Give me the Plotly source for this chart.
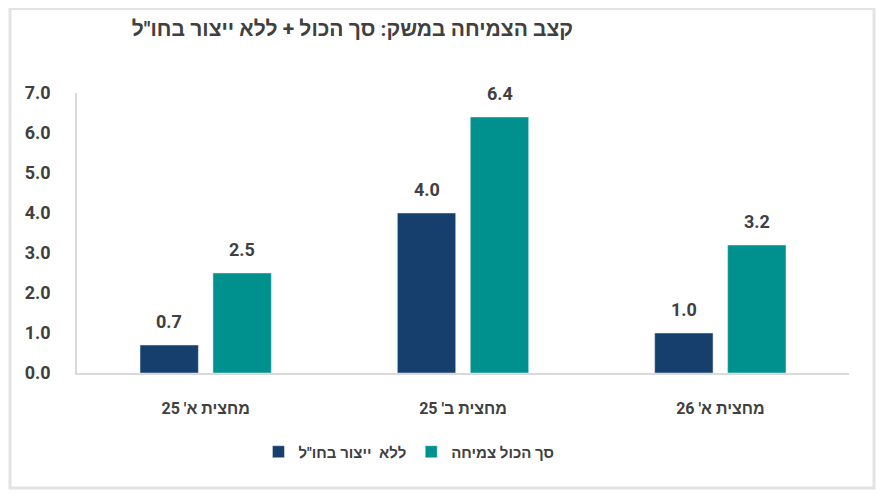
import plotly.graph_objects as go

categories = ["מחצית א' 25", "מחצית ב' 25", "מחצית א' 26"]
series_names = ['ללא  ייצור בחו"ל', "סך הכול צמיחה"]
without_abroad = [0.7, 4.0, 1.0]
total_growth = [2.5, 6.4, 3.2]
y_ticks = [0, 1, 2, 3, 4, 5, 6, 7]

title_text = 'קצב הצמיחה במשק: סך הכול + ללא ייצור בחו"ל'

blue = "#173F6E"
teal = "#00918E"
text_color = "#404040"
font_family = "Roboto, Liberation Sans, Arial, sans-serif"

fig = go.Figure()
for name, values, color in [(series_names[0], without_abroad, blue),
                            (series_names[1], total_growth, teal)]:
    fig.add_trace(go.Bar(x=categories, y=values, name=name,
                         marker=dict(color=color)))

# value labels above bars, offset to each bar of the group
for values, shift in [(without_abroad, -36.5), (total_growth, 36.5)]:
    for cat, v in zip(categories, values):
        fig.add_annotation(x=cat, y=v, xref="x", yref="y", text="<b>%.1f</b>" % v,
                           showarrow=False, xshift=shift, yshift=11, yanchor="bottom",
                           font=dict(size=18, color=text_color, family=font_family))

# outer light frame
fig.add_shape(type="rect", xref="paper", yref="paper",
              x0=-0.0868, x1=1.0324, y0=-0.4107, y1=1.302,
              line=dict(color="#e3e3e3", width=3), layer="below")

# page body adds 8px margin, so the figure is 8px smaller than the window
fig.update_layout(
    width=876,
    height=488,
    margin=dict(l=69, r=35, t=85, b=123),
    paper_bgcolor="white",
    plot_bgcolor="white",
    barmode="group",
    bargap=0.433,
    bargroupgap=0.2,
    title=dict(text="<b>" + title_text + "</b>", xref="container", yref="container",
               x=565 / 876, xanchor="right", y=1 - 21 / 488, yanchor="middle",
               font=dict(size=21, color=text_color, family=font_family)),
    xaxis=dict(
        showline=True, linecolor="#d9d9d9", linewidth=1.5,
        ticks="outside", ticklen=20, tickcolor="rgba(0,0,0,0)",
        tickfont=dict(size=16, color=text_color, family=font_family),
        tickvals=categories,
        ticktext=["<b>" + c + "</b>" for c in categories],
    ),
    yaxis=dict(
        range=[0, 7], tickvals=y_ticks, tickformat=".1f",
        showgrid=False, zeroline=False,
        showline=True, linecolor="#d9d9d9", linewidth=1.5,
        ticks="outside", ticklen=21, tickcolor="rgba(0,0,0,0)",
        tickfont=dict(size=18, color=text_color, family=font_family, weight="bold"),
    ),
    legend=dict(
        orientation="h", x=0.43, xanchor="center", y=-0.282, yanchor="middle",
        font=dict(size=15, color=text_color, family=font_family, weight="bold"),
        traceorder="normal", itemwidth=30,
    ),
    showlegend=True,
)

fig.write_html("out.html")
